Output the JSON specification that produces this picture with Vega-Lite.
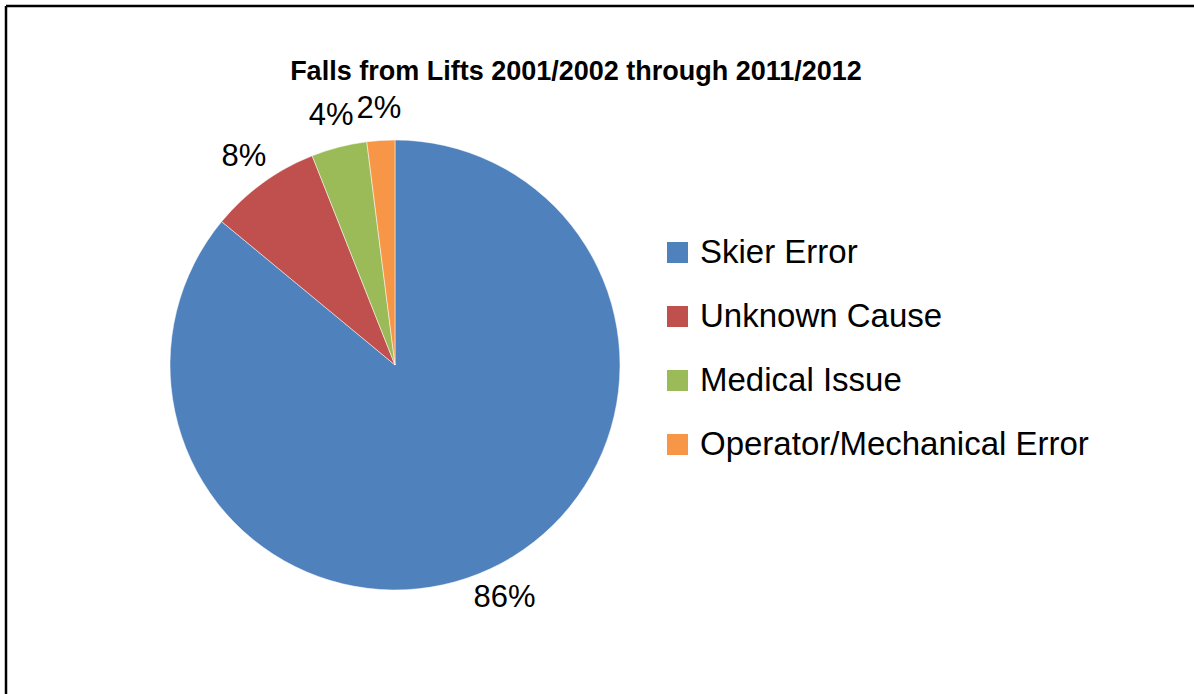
{
  "$schema": "https://vega.github.io/schema/vega-lite/v6.json",
  "width": 1194,
  "height": 694,
  "autosize": {"type": "fit", "contains": "padding"},
  "padding": {"left": 6, "top": 6, "right": 0, "bottom": 0},
  "background": "white",
  "view": {"stroke": "black", "strokeWidth": 2.5, "fill": "white", "strokeDash": [1188, 1876, 688, 0], "strokeDashOffset": 0, "strokeCap": "butt"},
  "config": {
    "font": "Liberation Sans",
    "view": {"stroke": "black", "strokeWidth": 2.5, "strokeDash": [1188, 1876, 688, 0], "strokeDashOffset": 0, "strokeCap": "butt"}
  },
  "title": {
    "text": "Falls from Lifts 2001/2002 through 2011/2012",
    "font": "Liberation Sans",
    "fontSize": 27,
    "fontWeight": "bold",
    "color": "black",
    "anchor": "middle",
    "offset": -80,
    "dx": -24
  },
  "data": {
    "values": [
      {"cause": "Skier Error", "share": 0.86},
      {"cause": "Unknown Cause", "share": 0.08},
      {"cause": "Medical Issue", "share": 0.04},
      {"cause": "Operator/Mechanical Error", "share": 0.02}
    ]
  },
  "encoding": {
    "theta": {"field": "share", "type": "quantitative", "stack": true},
    "order": {"field": "share", "type": "quantitative", "sort": "descending"},
    "color": {
      "field": "cause",
      "type": "nominal",
      "sort": ["Skier Error", "Unknown Cause", "Medical Issue", "Operator/Mechanical Error"],
      "scale": {
        "domain": ["Skier Error", "Unknown Cause", "Medical Issue", "Operator/Mechanical Error"],
        "range": ["#4F81BD", "#C0504D", "#9BBB59", "#F79646"]
      },
      "legend": {
        "title": null,
        "orient": "none",
        "legendX": 655,
        "legendY": 230,
        "padding": 0,
        "symbolType": "square",
        "symbolSize": 441,
        "symbolStrokeWidth": 0,
        "labelFontSize": 33,
        "labelFont": "Liberation Sans",
        "labelColor": "black",
        "labelOffset": 6,
        "labelLimit": 600,
        "rowPadding": 30
      }
    }
  },
  "layer": [
    {
      "mark": {"type": "arc", "outerRadius": 225, "x": 389, "y": 359, "stroke": "white", "strokeWidth": 0.5}
    },
    {
      "mark": {"type": "text", "radius": 257, "x": 389, "y": 359, "fontSize": 31, "font": "Liberation Sans", "color": "black", "align": "center", "baseline": "middle"},
      "encoding": {
        "text": {"field": "share", "type": "quantitative", "format": ".0%"},
        "color": {"value": "black"}
      }
    }
  ]
}
